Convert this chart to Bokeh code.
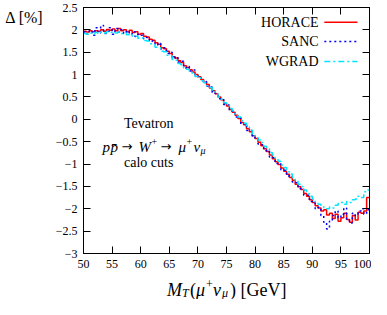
import numpy as np
from bokeh.plotting import figure
from bokeh.layouts import column
from bokeh.models import Range1d, LinearAxis, FixedTicker, CustomJSTickFormatter, Label
from bokeh.embed import file_html
from bokeh.resources import INLINE

# ---------------- data ----------------
bin_start = 50.0
bin_width = 0.5

horace = [
    1.97, 1.95, 1.98, 1.96, 1.98, 1.97, 2.00, 1.97, 2.01, 1.99, 2.02, 1.98,
    2.03, 1.98, 2.00, 1.96, 1.99, 1.94, 1.96, 1.90, 1.92, 1.86, 1.84, 1.79,
    1.77, 1.71, 1.68, 1.60, 1.58, 1.52, 1.47, 1.40, 1.37, 1.31, 1.27, 1.20,
    1.16, 1.11, 1.06, 1.00, 0.95, 0.89, 0.83, 0.78, 0.70, 0.64, 0.57, 0.50,
    0.44, 0.36, 0.30, 0.22, 0.16, 0.09, 0.02, -0.07, -0.12, -0.21, -0.28, -0.37,
    -0.43, -0.51, -0.59, -0.66, -0.72, -0.80, -0.88, -0.95, -1.01, -1.09, -1.16, -1.23,
    -1.30, -1.36, -1.45, -1.51, -1.57, -1.66, -1.72, -1.80, -1.86, -1.93, -1.98, -2.05,
    -2.02, -2.14, -2.10, -2.22, -2.12, -2.28, -2.20, -2.10, -2.24, -2.30, -2.15, -2.25,
    -2.08, -2.10, -2.05, -1.75,
]

sanc = [
    1.95, 1.90, 1.98, 1.88, 2.05, 1.93, 2.10, 1.92, 1.97, 2.05, 1.90, 2.03,
    1.95, 2.00, 1.92, 1.97, 1.90, 1.96, 1.85, 1.90, 1.88, 1.80, 1.83, 1.74,
    1.75, 1.66, 1.70, 1.57, 1.60, 1.47, 1.50, 1.36, 1.40, 1.28, 1.30, 1.15,
    1.18, 1.08, 1.10, 0.96, 0.97, 0.86, 0.85, 0.74, 0.72, 0.60, 0.58, 0.46,
    0.46, 0.33, 0.32, 0.18, 0.18, 0.05, 0.04, -0.11, -0.10, -0.25, -0.26, -0.41,
    -0.40, -0.55, -0.57, -0.70, -0.69, -0.84, -0.86, -0.99, -0.98, -1.13, -1.14, -1.27,
    -1.26, -1.40, -1.42, -1.55, -1.54, -1.70, -1.70, -1.84, -1.85, -2.00, -1.97, -2.15,
    -2.30, -2.45, -2.28, -2.15, -2.05, -2.20, -2.12, -1.98, -2.25, -2.32, -2.10, -2.15,
    -2.05, -2.00, -2.12, -2.02,
]

wgrad = [
    1.92, 1.90, 1.93, 1.91, 1.94, 1.92, 1.95, 1.93, 1.96, 1.94, 1.95, 1.93,
    1.95, 1.92, 1.93, 1.89, 1.90, 1.86, 1.86, 1.81, 1.82, 1.76, 1.75, 1.69,
    1.68, 1.61, 1.60, 1.52, 1.51, 1.43, 1.42, 1.34, 1.32, 1.25, 1.22, 1.15,
    1.12, 1.06, 1.02, 0.96, 0.93, 0.86, 0.82, 0.75, 0.71, 0.63, 0.58, 0.50,
    0.45, 0.37, 0.32, 0.24, 0.19, 0.11, 0.05, -0.03, -0.09, -0.17, -0.24, -0.32,
    -0.38, -0.46, -0.52, -0.60, -0.66, -0.74, -0.80, -0.89, -0.94, -1.02, -1.08, -1.17,
    -1.22, -1.30, -1.37, -1.45, -1.50, -1.58, -1.66, -1.72, -1.78, -1.85, -1.90, -1.95,
    -1.97, -2.00, -1.96, -1.98, -1.92, -1.88, -1.86, -1.90, -1.84, -1.86, -1.80, -1.78,
    -1.72, -1.75, -1.62, -1.58,
]

series_names = ["HORACE", "SANC", "WGRAD"]
x_ticks = [50, 55, 60, 65, 70, 75, 80, 85, 90, 95, 100]
y_ticks = [-3, -2.5, -2, -1.5, -1, -0.5, 0, 0.5, 1, 1.5, 2, 2.5]
y_title = "\u0394 [%]"

# ---------------- styling ----------------
FONT = "Liberation Serif"
colors = ["#ff0000", "#0000ff", "#00e5ff"]
dashes = ["solid", "2 3", "6 3 2 3"]
W = 371

xr = Range1d(x_ticks[0], x_ticks[-1])
p = figure(width=W, height=272,
           x_range=xr,
           y_range=Range1d(y_ticks[0], y_ticks[-1]),
           output_backend="svg", toolbar_location=None,
           min_border_left=83, min_border_right=2,
           min_border_top=7, min_border_bottom=19)
p.grid.visible = False
p.outline_line_color = "black"
p.outline_line_width = 1
p.background_fill_color = "white"
p.border_fill_color = "white"

fmt = CustomJSTickFormatter(code="""
    const a = Math.abs(tick);
    let s = (Math.round(a*10)/10).toString();
    return (tick < -1e-9 ? '\u2212' : '') + s;
""")

def style_axis(ax, labels=True):
    ax.axis_line_color = "black"
    ax.axis_line_width = 1
    ax.major_tick_in = 7
    ax.major_tick_out = 0
    ax.major_tick_line_color = "black"
    ax.major_tick_line_width = 1
    ax.minor_tick_line_color = None
    ax.major_label_text_font = FONT
    ax.major_label_text_font_size = "12px"
    ax.major_label_text_color = "black"
    ax.major_label_standoff = 6
    if not labels:
        ax.major_label_text_font_size = "0px"
        ax.major_label_standoff = 0
        ax.major_label_text_alpha = 0

p.xaxis.ticker = FixedTicker(ticks=x_ticks)
p.yaxis.ticker = FixedTicker(ticks=y_ticks)
p.xaxis.formatter = fmt
p.yaxis.formatter = fmt
style_axis(p.xaxis[0])
style_axis(p.yaxis[0])

top = LinearAxis(ticker=FixedTicker(ticks=x_ticks), formatter=fmt)
right = LinearAxis(ticker=FixedTicker(ticks=y_ticks), formatter=fmt)
style_axis(top, labels=False)
style_axis(right, labels=False)
p.add_layout(top, "above")
p.add_layout(right, "right")

# y-axis title, drawn as the single label of an outer left axis (top-left corner)
ytitle_axis = LinearAxis(ticker=FixedTicker(ticks=[2.28]),
                         formatter=CustomJSTickFormatter(code="return '%s';" % y_title))
ytitle_axis.axis_line_color = None
ytitle_axis.major_tick_line_color = None
ytitle_axis.minor_tick_line_color = None
ytitle_axis.major_tick_in = 0
ytitle_axis.major_tick_out = 0
ytitle_axis.major_label_standoff = 9
ytitle_axis.major_label_text_font = FONT
ytitle_axis.major_label_text_font_size = "16px"
ytitle_axis.major_label_text_color = "black"
p.add_layout(ytitle_axis, "left")

# ---------------- histograms ----------------
all_series = [horace, sanc, wgrad]
for vals, col, dash in zip(all_series, colors, dashes):
    edges = [bin_start + bin_width * i for i in range(len(vals) + 1)]
    ys = list(vals) + [vals[-1]]
    p.step(edges, ys, mode="after", line_color=col, line_width=1.5, line_dash=dash)

# ---------------- legend (gnuplot-like: text then sample) ----------------
leg_text_x = 91.1
leg_x0, leg_x1 = 92.1, 97.9
leg_rows = [2.17, 1.74, 1.29]
for name, col, dash, yy in zip(series_names, colors, dashes, leg_rows):
    p.add_layout(Label(x=leg_text_x, y=yy, text=name, text_align="right",
                       text_baseline="middle", text_font=FONT,
                       text_font_size="14px", text_color="black"))
    p.segment(x0=[leg_x0], y0=[yy], x1=[leg_x1], y1=[yy],
              line_color=col, line_width=1.5, line_dash=dash)

# ---------------- annotations ----------------
def lab(fig, text, x, y, xo=0, yo=0, size="14px", style="normal", align="left",
        baseline="alphabetic", font=FONT):
    fig.add_layout(Label(x=x, y=y, x_offset=xo, y_offset=yo, text=text,
                         text_font=font, text_font_size=size, text_font_style=style,
                         text_align=align, text_baseline=baseline, text_color="black"))

lab(p, "Tevatron", 61.4, -0.09, size="14px", align="center", baseline="middle")
lab(p, "calo cuts", 61.4, -0.97, size="14px", align="center", baseline="middle")

# p p̄ → W+ → μ+ ν_μ  (pieces)
rx, ry = 53.3, -0.63
lab(p, "p", rx, ry, xo=0, size="15px", style="italic")
lab(p, "p\u0304", rx, ry, xo=8, size="15px", style="italic")
lab(p, "\u2192", rx, ry, xo=19, yo=1, size="13px", font="DejaVu Sans")
lab(p, "W", rx, ry, xo=36, size="15px", style="italic")
lab(p, "+", rx, ry, xo=49, yo=6, size="10px")
lab(p, "\u2192", rx, ry, xo=58, yo=1, size="13px", font="DejaVu Sans")
lab(p, "\u03BC", rx, ry, xo=76, size="15px", style="italic")
lab(p, "+", rx, ry, xo=84, yo=6, size="10px")
lab(p, "\u03BD", rx, ry, xo=91, size="15px", style="italic")
lab(p, "\u03BC", rx, ry, xo=98, yo=-3, size="10px", style="italic")

# ---------------- x-axis title strip (shares the x range, frame-aligned) ----------------
p2 = figure(width=W, height=27, x_range=xr, y_range=Range1d(0, 27),
            output_backend="svg", toolbar_location=None, min_border=0,
            x_axis_location=None, y_axis_location=None)
p2.grid.visible = False
p2.outline_line_color = None
p2.background_fill_color = "white"
p2.border_fill_color = "white"

xb, yb = 64.6, 10
lab(p2, "M", xb, yb, xo=0, size="18px", style="italic")
lab(p2, "T", xb, yb, xo=15, yo=-3, size="12px", style="italic")
lab(p2, "(", xb, yb, xo=23, size="18px")
lab(p2, "\u03BC", xb, yb, xo=29, size="18px", style="italic")
lab(p2, "+", xb, yb, xo=39, yo=6, size="12px")
lab(p2, "\u03BD", xb, yb, xo=46, size="18px", style="italic")
lab(p2, "\u03BC", xb, yb, xo=55, yo=-3, size="12px", style="italic")
lab(p2, ") [GeV]", xb, yb, xo=63, size="18px")

layout = column(p, p2, spacing=0)
open("out.html", "w").write(file_html(layout, INLINE))
